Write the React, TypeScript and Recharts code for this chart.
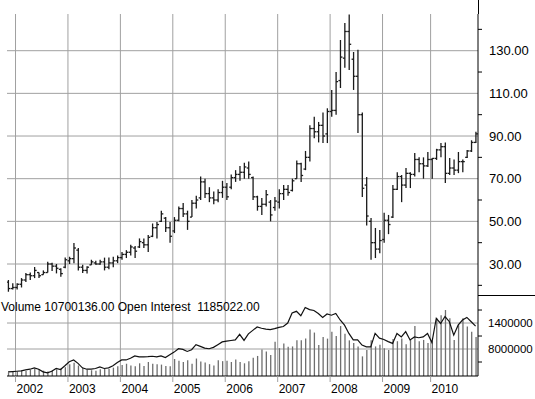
import React from "react";
import {
    ComposedChart,
    Bar,
    Line,
    XAxis,
    YAxis,
    CartesianGrid,
} from "recharts";

const FONT = "'Liberation Sans', Arial, sans-serif";

// monthly bars, Nov 2001 .. Nov 2010 (one month missing in 2009)
const months = [
    "2001-11", "2001-12",
    "2002-01", "2002-02", "2002-03", "2002-04", "2002-05", "2002-06", "2002-07", "2002-08", "2002-09", "2002-10", "2002-11", "2002-12",
    "2003-01", "2003-02", "2003-03", "2003-04", "2003-05", "2003-06", "2003-07", "2003-08", "2003-09", "2003-10", "2003-11", "2003-12",
    "2004-01", "2004-02", "2004-03", "2004-04", "2004-05", "2004-06", "2004-07", "2004-08", "2004-09", "2004-10", "2004-11", "2004-12",
    "2005-01", "2005-02", "2005-03", "2005-04", "2005-05", "2005-06", "2005-07", "2005-08", "2005-09", "2005-10", "2005-11", "2005-12",
    "2006-01", "2006-02", "2006-03", "2006-04", "2006-05", "2006-06", "2006-07", "2006-08", "2006-09", "2006-10", "2006-11", "2006-12",
    "2007-01", "2007-02", "2007-03", "2007-04", "2007-05", "2007-06", "2007-07", "2007-08", "2007-09", "2007-10", "2007-11", "2007-12",
    "2008-01", "2008-02", "2008-03", "2008-04", "2008-05", "2008-06", "2008-07", "2008-08", "2008-09", "2008-10", "2008-11", "2008-12",
    "2009-01", "2009-02", "2009-03", "2009-04", "2009-05", "2009-06", "2009-07", "2009-08", "2009-09", "2009-10", "2009-11",
    "2010-01", "2010-02", "2010-03", "2010-04", "2010-05", "2010-06", "2010-07", "2010-08", "2010-09", "2010-10", "2010-11",
];

const high = [
    22.5, 21.0,
    21.0, 23.4, 25.8, 26.0, 28.6, 26.0, 27.0, 31.0, 30.6, 30.0, 28.0, 33.0,
    33.4, 39.8, 37.5, 29.6, 29.0, 32.0, 31.5, 32.0, 33.0, 33.0, 33.4, 34.0,
    35.6, 36.5, 39.0, 38.5, 42.0, 42.0, 43.6, 49.0, 49.7, 55.0, 52.0, 49.7,
    52.0, 57.0, 58.6, 55.0, 60.0, 62.0, 71.0, 70.0, 66.0, 64.0, 65.0, 69.0,
    68.0, 72.0, 74.0, 76.0, 77.5, 78.0, 71.0, 62.0, 61.0, 64.7, 60.0, 61.4,
    65.0, 67.0, 67.0, 70.0, 78.5, 77.5, 83.0, 95.0, 99.0, 96.6, 101.0, 103.0,
    111.6, 120.0, 135.0, 143.0, 147.0, 129.4, 130.4, 101.0, 70.8, 51.6, 46.9, 46.0,
    54.0, 53.0, 67.0, 73.0, 71.7, 75.0, 73.0, 82.0, 80.0, 80.0, 82.5,
    79.7, 84.0, 86.7, 87.0, 79.7, 79.0, 82.5, 79.0, 83.4, 88.0, 92.0,
];

const low = [
    17.0, 18.0,
    18.0, 19.0, 21.6, 22.5, 23.4, 23.4, 25.0, 26.0, 26.7, 25.6, 24.0, 28.0,
    30.0, 30.4, 27.0, 25.8, 25.5, 29.6, 29.6, 29.6, 27.0, 27.5, 28.5, 30.4,
    32.0, 32.8, 34.0, 32.8, 37.5, 37.5, 35.6, 42.6, 42.0, 49.7, 45.0, 40.0,
    44.5, 50.0, 52.0, 46.0, 52.0, 56.0, 60.0, 61.0, 59.0, 58.0, 59.0, 61.0,
    60.0, 65.0, 68.5, 69.0, 70.0, 70.0, 60.0, 55.0, 53.0, 57.0, 50.0, 55.0,
    56.0, 60.0, 62.0, 64.0, 70.0, 68.5, 74.0, 78.0, 89.0, 87.0, 86.7, 86.7,
    99.0, 100.0, 112.5, 122.0, 121.0, 111.6, 91.4, 61.4, 48.0, 32.0, 32.8, 35.0,
    40.0, 44.0, 51.6, 64.7, 59.0, 65.6, 65.6, 71.0, 73.0, 70.0, 75.5,
    70.0, 78.8, 80.0, 68.0, 71.7, 71.7, 72.6, 73.0, 79.7, 82.5, 86.7,
];

const open = [
    21.5, 18.5,
    19.0, 20.5, 22.5, 25.0, 24.5, 26.0, 25.0, 26.0, 30.0, 29.0, 27.5, 28.5,
    31.5, 32.5, 36.5, 28.5, 27.0, 29.6, 30.5, 30.0, 31.0, 28.5, 30.5, 31.5,
    33.0, 34.5, 35.5, 37.5, 38.0, 40.0, 39.0, 43.0, 47.0, 50.0, 51.5, 47.0,
    45.5, 50.5, 56.0, 53.5, 52.0, 58.5, 61.0, 68.5, 63.0, 61.0, 60.0, 63.5,
    66.0, 66.0, 70.5, 72.0, 73.0, 75.0, 70.5, 61.5, 57.0, 58.0, 59.0, 56.5,
    59.0, 63.0, 65.0, 64.5, 70.0, 77.0, 74.5, 80.0, 93.5, 92.0, 95.0, 91.0,
    101.5, 102.0, 116.0, 126.5, 139.0, 126.0, 118.0, 100.0, 67.0, 50.0, 40.0, 37.0,
    41.5, 50.5, 52.0, 65.0, 71.0, 67.0, 72.5, 72.0, 79.0, 77.0, 76.0,
    79.0, 79.5, 83.5, 85.0, 72.5, 75.0, 74.0, 78.0, 80.0, 83.0, 87.0,
];

const close = [
    18.5, 19.0,
    20.5, 22.5, 25.0, 24.5, 27.0, 24.5, 26.0, 30.0, 29.0, 28.0, 25.5, 32.0,
    32.5, 37.5, 28.5, 27.0, 28.5, 31.0, 30.0, 31.0, 28.5, 30.5, 31.5, 33.0,
    34.5, 35.5, 38.0, 36.0, 40.5, 39.0, 42.5, 47.0, 48.5, 53.5, 47.0, 43.0,
    50.5, 56.0, 53.5, 50.0, 58.5, 60.0, 68.5, 63.0, 61.0, 60.0, 63.5, 66.0,
    61.5, 70.5, 72.0, 73.0, 75.5, 72.0, 61.5, 57.0, 58.0, 62.5, 53.0, 59.5,
    63.0, 65.0, 63.5, 69.0, 77.0, 71.5, 80.0, 93.5, 92.0, 95.0, 90.0, 101.5,
    102.0, 115.5, 127.0, 139.0, 133.0, 118.0, 100.0, 65.5, 52.5, 40.0, 37.0, 41.0,
    50.5, 48.5, 65.0, 71.0, 67.0, 72.5, 72.0, 79.0, 77.0, 76.0, 79.0,
    79.5, 83.5, 85.0, 72.5, 75.0, 74.0, 78.0, 78.0, 83.0, 87.0, 91.0,
];

// millions of contracts
const volume = [
    2.6, 2.7,
    2.8, 3.0, 2.9, 3.2, 3.4, 3.3, 3.0, 2.8, 3.1, 3.3, 3.5, 3.8,
    4.5, 4.8, 4.2, 3.6, 3.2, 3.1, 3.0, 3.3, 3.5, 3.4, 3.7, 4.0,
    4.3, 4.6, 4.2, 4.0, 4.7, 4.1, 5.0, 4.6, 4.5, 4.4, 4.1, 4.0,
    5.7, 5.3, 5.0, 5.4, 4.6, 5.8, 5.1, 4.9, 4.5, 4.2, 5.4, 5.2,
    5.3, 5.0, 5.6, 5.0, 4.7, 5.2, 6.0, 6.4, 7.9, 7.4, 6.6, 9.7,
    8.2, 9.3, 8.5, 8.6, 10.0, 10.0, 10.4, 12.5, 11.8, 8.9, 10.8, 10.4,
    12.0, 11.0, 13.3, 11.5, 10.0, 9.4, 8.6, 6.3, 7.8, 10.0, 8.6, 9.0,
    8.2, 7.8, 10.3, 9.8, 10.4, 9.1, 10.1, 13.3, 9.8, 10.1, 9.4,
    9.8, 15.1, 15.8, 17.0, 15.1, 10.1, 13.5, 15.1, 13.2, 12.0, 10.8,
];

const openInterest = [
    2.72, 2.79,
    2.87, 2.95, 3.2, 3.34, 3.66, 3.34, 2.72, 2.5, 2.87, 3.5, 3.26, 4.13,
    5.07, 5.47, 4.68, 3.66, 3.34, 3.34, 3.5, 3.89, 3.5, 3.66, 4.13, 4.9,
    5.47, 5.47, 5.87, 6.41, 6.2, 6.2, 6.25, 6.33, 6.2, 6.41, 6.02, 6.65,
    7.28, 8.06, 7.9, 7.44, 7.83, 9.01, 8.62, 8.22, 8.06, 8.38, 9.01, 9.64,
    9.8, 9.96, 10.1, 11.4, 10.0, 11.5, 12.3, 13.1, 12.8, 12.6, 12.5, 12.7,
    13.0, 13.2, 14.0, 16.3, 16.7, 15.7, 17.6, 17.1, 16.9, 16.2, 15.3, 16.1,
    15.8, 16.2, 14.7, 13.5, 11.6, 10.1, 10.1, 8.9, 8.5, 8.5, 11.6, 10.5,
    10.2, 9.7, 9.3, 11.6, 10.8, 12.0, 10.1, 10.8, 10.6, 10.8, 11.6,
    9.5, 15.1, 13.9, 15.5, 14.3, 11.2, 13.5, 14.7, 15.3, 14.3, 13.3,
];

const priceLabels: Record<number, string> = {
    30: "30.00", 50: "50.00", 70: "70.00", 90: "90.00", 110: "110.00", 130: "130.00",
};
const priceTicks = [20, 30, 40, 50, 60, 70, 80, 90, 100, 110, 120, 130, 140];
const priceGrid = [30, 50, 70, 90, 110, 130];

const volumeLabels: Record<number, string> = { 8: "8000000", 14: "1400000" };
const volumeTicks = [5, 8, 11, 14, 17];
const volumeGrid = [8, 14];

const legendText = "Volume 10700136.00 Open Interest  1185022.00";

const rows = months.map((m, i) => ({
    i,
    month: m,
    range: [low[i], high[i]],
    high: high[i],
    low: low[i],
    open: open[i],
    close: close[i],
    volume: volume[i],
    oi: openInterest[i],
}));

// year grid lines sit just before each January bar
const yearTicks = months.map((m, i) => (m.endsWith("-01") ? i - 0.3 : null)).filter((v) => v !== null) as number[];
const yearLabels = months.filter((m) => m.endsWith("-01")).map((m) => m.slice(0, 4));

const X_DOMAIN = [-0.25, 107.55];

const OhlcShape = (props: any) => {
    const { x, y, width, height, payload } = props;
    if (x == null || y == null) return null;
    const top = Math.min(y, y + height);
    const h = Math.abs(height);
    const cx = x + width / 2;
    const span = payload.high - payload.low || 1;
    const yOf = (v: number) => top + ((payload.high - v) / span) * h;
    return (
        <g stroke="#1a1a1a" strokeWidth={1.3}>
            <line x1={cx} x2={cx} y1={top} y2={top + h} />
            <line x1={cx - 2} x2={cx} y1={yOf(payload.open)} y2={yOf(payload.open)} />
            <line x1={cx} x2={cx + 2} y1={yOf(payload.close)} y2={yOf(payload.close)} />
        </g>
    );
};

const PriceTick = ({ x, y, payload }: any) => {
    const label = priceLabels[payload.value];
    if (!label) {
        return <line x1={x} x2={x + 4} y1={y} y2={y} stroke="#000" strokeWidth={1} />;
    }
    return (
        <text x={x + 11} y={y} dy={4.6} fontSize={13} fontFamily={FONT} fill="#000" textAnchor="start">
            {label}
        </text>
    );
};

const VolumeTick = ({ x, y, payload }: any) => {
    const label = volumeLabels[payload.value];
    if (!label) {
        return <line x1={x} x2={x + 4} y1={y} y2={y} stroke="#000" strokeWidth={1} />;
    }
    return (
        <text x={x + 10} y={y} dy={4.2} fontSize={11.5} fontFamily={FONT} fill="#000" textAnchor="start">
            {label}
        </text>
    );
};

const YearTick = ({ x, y, index }: any) => (
    <text x={x + 1} y={y} dy={11} fontSize={12} fontFamily={FONT} fill="#000" textAnchor="start">
        {yearLabels[index]}
    </text>
);

const App = () => {
    return (
        <div
            style={{
                position: "absolute",
                left: 0,
                top: 0,
                width: 535,
                height: 399,
                background: "#fff",
            }}
        >
            {/* price panel */}
            <div style={{ position: "absolute", left: 0, top: 0 }}>
                <ComposedChart
                    width={535}
                    height={294}
                    data={rows}
                    margin={{ top: 14, right: 0, bottom: 0, left: 7 }}
                >
                    <CartesianGrid
                        stroke="#a0a0a0"
                        horizontalValues={priceGrid}
                        verticalValues={yearTicks}
                    />
                    <XAxis
                        dataKey="i"
                        type="number"
                        domain={X_DOMAIN}
                        ticks={yearTicks}
                        allowDataOverflow
                        hide
                    />
                    <YAxis
                        orientation="right"
                        type="number"
                        domain={[15.94, 147.2]}
                        allowDataOverflow
                        ticks={priceTicks}
                        interval={0}
                        width={57}
                        tickSize={0}
                        tickMargin={0}
                        tickLine={false}
                        axisLine={{ stroke: "#000", strokeWidth: 1 }}
                        tick={PriceTick}
                    />
                    <Bar
                        dataKey="range"
                        barSize={3}
                        shape={OhlcShape}
                        isAnimationActive={false}
                    />
                </ComposedChart>
            </div>

            {/* stub of the right axis above the grid */}
            <div style={{ position: "absolute", left: 477.5, top: 0, width: 1, height: 14, background: "#000" }} />
            {/* separator right of the panels */}
            <div style={{ position: "absolute", left: 478, top: 295, width: 57, height: 1, background: "#000" }} />

            {/* volume / open interest panel */}
            <div style={{ position: "absolute", left: 0, top: 294 }}>
                <ComposedChart
                    width={535}
                    height={105}
                    data={rows}
                    margin={{ top: 0, right: 0, bottom: 0, left: 7 }}
                >
                    <CartesianGrid
                        stroke="#a0a0a0"
                        horizontalValues={volumeGrid}
                        verticalValues={yearTicks}
                    />
                    <XAxis
                        dataKey="i"
                        type="number"
                        domain={X_DOMAIN}
                        ticks={yearTicks}
                        interval={0}
                        allowDataOverflow
                        height={23}
                        tickSize={6}
                        tickMargin={0}
                        tickLine={{ stroke: "#a0a0a0" }}
                        axisLine={{ stroke: "#000", strokeWidth: 1 }}
                        tick={YearTick}
                    />
                    <YAxis
                        orientation="right"
                        type="number"
                        domain={[1.77, 20.7]}
                        allowDataOverflow
                        ticks={volumeTicks}
                        interval={0}
                        width={57}
                        tickSize={0}
                        tickMargin={0}
                        tickLine={false}
                        axisLine={{ stroke: "#000", strokeWidth: 1 }}
                        tick={VolumeTick}
                    />
                    <Bar
                        dataKey="volume"
                        barSize={1.3}
                        fill="#6e6e6e"
                        isAnimationActive={false}
                    />
                    <Line
                        type="linear"
                        dataKey="oi"
                        stroke="#111"
                        strokeWidth={1.2}
                        dot={false}
                        isAnimationActive={false}
                    />
                </ComposedChart>
            </div>

            <div
                style={{
                    position: "absolute",
                    left: 1,
                    top: 300,
                    fontSize: 12,
                    lineHeight: "14px",
                    fontFamily: FONT,
                    whiteSpace: "pre",
                    color: "#000",
                }}
            >
                {legendText}
            </div>
        </div>
    );
};

export default App;
